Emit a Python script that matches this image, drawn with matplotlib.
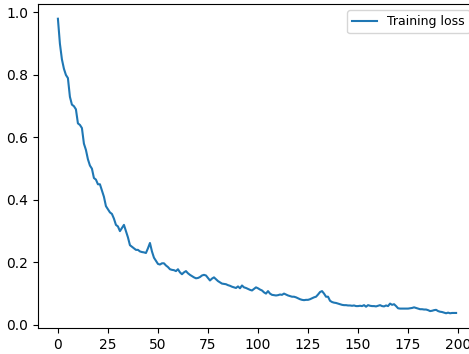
import matplotlib
matplotlib.use("Agg")
import matplotlib.pyplot as plt

# per-epoch training loss
loss = [
    0.98, 0.90, 0.85, 0.82, 0.80, 0.79, 0.73, 0.705, 0.70, 0.69,
    0.645, 0.64, 0.63, 0.58, 0.56, 0.53, 0.51, 0.50, 0.47, 0.465,
    0.45, 0.45, 0.43, 0.41, 0.38, 0.37, 0.36, 0.355, 0.34, 0.32,
    0.315, 0.30, 0.31, 0.32, 0.30, 0.28, 0.255, 0.25, 0.245, 0.24,
    0.24, 0.235, 0.233, 0.232, 0.23, 0.245, 0.262, 0.235, 0.215, 0.205,
    0.195, 0.193, 0.197, 0.197, 0.19, 0.185, 0.178, 0.176, 0.175, 0.172,
    0.178, 0.168, 0.162, 0.168, 0.172, 0.165, 0.16, 0.156, 0.152, 0.149,
    0.15, 0.153, 0.158, 0.16, 0.158, 0.15, 0.142, 0.148, 0.152, 0.146,
    0.14, 0.136, 0.132, 0.131, 0.13, 0.127, 0.125, 0.122, 0.12, 0.118,
    0.123, 0.117, 0.126, 0.12, 0.118, 0.115, 0.112, 0.11, 0.115, 0.12,
    0.117, 0.113, 0.11, 0.104, 0.10, 0.108, 0.10, 0.096, 0.095, 0.094,
    0.095, 0.097, 0.096, 0.10, 0.097, 0.094, 0.092, 0.09, 0.09, 0.088,
    0.085, 0.082, 0.08, 0.079, 0.08, 0.08, 0.082, 0.085, 0.088, 0.09,
    0.097, 0.105, 0.108, 0.10, 0.09, 0.09, 0.077, 0.073, 0.071, 0.07,
    0.068, 0.066, 0.064, 0.063, 0.063, 0.062, 0.062, 0.061, 0.062, 0.06,
    0.06, 0.061, 0.06, 0.063, 0.058, 0.063, 0.061, 0.06, 0.06, 0.059,
    0.061, 0.063, 0.06, 0.059, 0.062, 0.06, 0.068, 0.064, 0.066, 0.06,
    0.053, 0.052, 0.052, 0.052, 0.052, 0.052, 0.053, 0.054, 0.056, 0.054,
    0.052, 0.05, 0.05, 0.049, 0.049, 0.047, 0.044, 0.045, 0.047, 0.048,
    0.044, 0.042, 0.041, 0.039, 0.037, 0.039, 0.037, 0.038, 0.038, 0.038,
]

fig = plt.figure(figsize=(4.69, 3.54), dpi=100)
# axes run a little past the right edge of the canvas
ax = fig.add_axes([38 / 469, 26 / 354, 438 / 469, 324 / 354])
ax.plot(range(len(loss)), loss, label='Training loss')
ax.legend(loc='upper right', fontsize=9)

fig.savefig('out.png', dpi=100)
